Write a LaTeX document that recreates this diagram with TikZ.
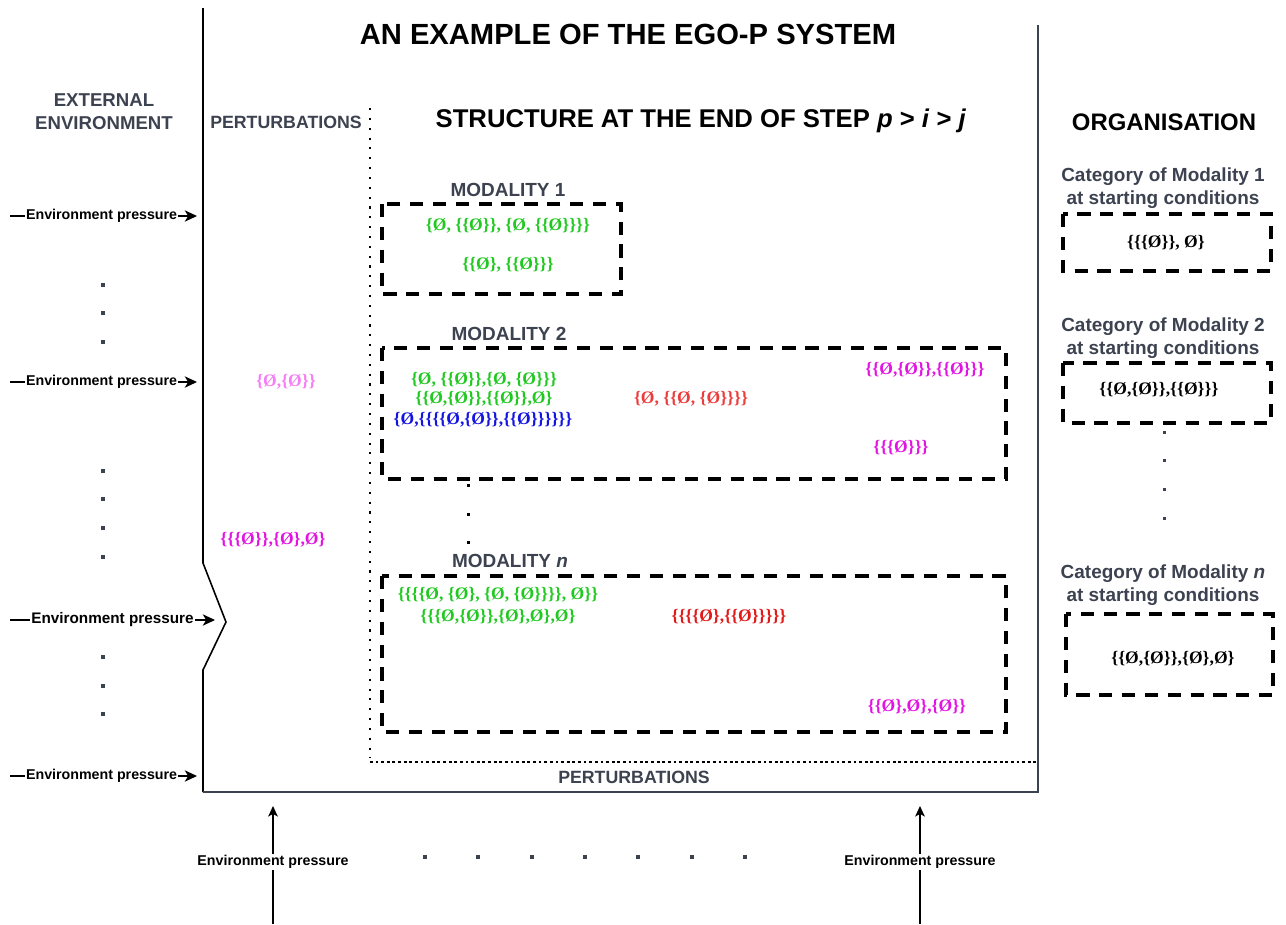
\documentclass[tikz,border=0pt]{standalone}
\usepackage{fontspec}
\setmainfont{Liberation Sans}
\newfontfamily\serf{Liberation Serif}
\usetikzlibrary{arrows.meta}
\definecolor{hd}{RGB}{60,66,80}
\definecolor{sgreen}{RGB}{34,200,34}
\definecolor{sblue}{RGB}{20,20,225}
\definecolor{sred}{RGB}{235,60,60}
\definecolor{sredd}{RGB}{225,25,25}
\definecolor{smag}{RGB}{225,20,225}
\definecolor{spink}{RGB}{245,125,245}
\tikzset{
  lbl/.style={inner sep=1pt},
  head/.style={lbl, font=\bfseries\fontsize{10.8}{13}\selectfont, text=hd, align=center},
  bighead/.style={lbl, font=\bfseries\fontsize{14.6}{17}\selectfont, text=black},
  envlab/.style={font=\bfseries\fontsize{8.1}{10}\selectfont, fill=white, inner sep=0.6pt},
  setlab/.style={lbl, font=\serf\bfseries\fontsize{10}{12}\selectfont},
  dbox/.style={draw=black, line width=2.2pt, dash pattern=on 7.5pt off 5.5pt},
  parr/.style={-{Stealth[length=7pt,width=6.5pt,inset=2pt]}, line width=0.7pt},
  uparr/.style={-{Stealth[length=6pt,width=5.5pt,inset=1.5pt]}, line width=0.7pt},
  dotsq/.style={fill=hd},
}
\begin{document}
\begin{tikzpicture}[x=0.02cm,y=-0.02cm]
\useasboundingbox (0,0) rectangle (1286,924);

% ---- frame ----
\draw[line width=0.9pt, black] (203,8) -- (203,563) -- (226,622) -- (203,670) -- (203,792);
\draw[line width=1.5pt, hd] (202.5,792) -- (1038,792) -- (1038,25);
\draw[line width=1.2pt, dash pattern=on 1.2pt off 4.4pt] (370,108) -- (370,758);
\draw[line width=0.7pt, dash pattern=on 1.6pt off 1.6pt] (370,762) -- (1036,762);

% ---- headings ----
\node[lbl, font=\bfseries\fontsize{16.6}{19}\selectfont] (title) at (628,34) {AN EXAMPLE OF THE EGO-P SYSTEM};
\node[head, font=\bfseries\fontsize{10.6}{13}\selectfont] (ext) at (104,112) {EXTERNAL\\ENVIRONMENT};
\node[head, font=\bfseries\fontsize{10.1}{12}\selectfont] (pert) at (286,122) {PERTURBATIONS};
\node[head, font=\bfseries\fontsize{10.1}{12}\selectfont] (pertb) at (634,777) {PERTURBATIONS};
\node[bighead] (struct) at (701,121) {STRUCTURE AT THE END OF STEP \textit{p} > \textit{i} > \textit{j}};
\node[bighead, font=\bfseries\fontsize{13.6}{16}\selectfont] (org) at (1164,122) {ORGANISATION};

% ---- left environment pressures ----
\coordinate (e1s) at (10,216); \coordinate (e1e) at (197,216);
\coordinate (e2s) at (10,382); \coordinate (e2e) at (197,382);
\coordinate (e3s) at (10,620); \coordinate (e3e) at (215,620);
\coordinate (e4s) at (10,776); \coordinate (e4e) at (197,776);
\draw[parr] (e1s) -- (e1e) node[envlab, pos=0.49] (ep1) {Environment pressure};
\draw[parr] (e2s) -- (e2e) node[envlab, pos=0.49] (ep2) {Environment pressure};
\draw[parr] (e3s) -- (e3e) node[envlab, pos=0.5, font=\bfseries\fontsize{8.7}{10}\selectfont] (ep3) {Environment pressure};
\draw[parr] (e4s) -- (e4e) node[envlab, pos=0.49] (ep4) {Environment pressure};

\foreach \yy in {285,313,342,471,499,528,557,657,686,714}
  \fill[dotsq] (103-1.6,\yy-1.6) rectangle (103+1.6,\yy+1.6);

% ---- bottom environment pressures ----
\coordinate (b1s) at (273,924); \coordinate (b1e) at (273,806);
\coordinate (b2s) at (920,924); \coordinate (b2e) at (920,806);
\draw[uparr] (b1s) -- (b1e) node[envlab, pos=0.525] (bp1) {Environment pressure};
\draw[uparr] (b2s) -- (b2e) node[envlab, pos=0.525] (bp2) {Environment pressure};
\foreach \xx in {425,478,532,585,638,692,745}
  \fill[dotsq] (\xx-1.6,857-1.6) rectangle (\xx+1.6,857+1.6);

% ---- perturbation column ----
\node[setlab, text=spink] (p1) at (286,382) {\{Ø,\{Ø\}\}};
\node[setlab, text=smag] (p2) at (273,540) {\{\{\{Ø\}\},\{Ø\},Ø\}};

% ---- modality 1 ----
\node[head] (m1) at (508,190) {MODALITY 1};
\draw[dbox] (382,204) rectangle (621,294);
\node[setlab, text=sgreen] (m1a) at (508,226) {\{Ø, \{\{Ø\}\}, \{Ø, \{\{Ø\}\}\}\}};
\node[setlab, text=sgreen] (m1b) at (508,265) {\{\{Ø\}, \{\{Ø\}\}\}};

% ---- modality 2 ----
\node[head] (m2) at (509,334) {MODALITY 2};
\draw[dbox] (382,348) rectangle (1006,479);
\node[setlab, text=sgreen] (m2a) at (484,380) {\{Ø, \{\{Ø\}\},\{Ø, \{Ø\}\}\}};
\node[setlab, text=sgreen] (m2b) at (484,399) {\{\{Ø,\{Ø\}\},\{\{Ø\}\},Ø\}};
\node[setlab, text=sblue] (m2c) at (483,420) {\{Ø,\{\{\{\{Ø,\{Ø\}\},\{\{Ø\}\}\}\}\}\}};
\node[setlab, text=sred] (m2d) at (691,399) {\{Ø, \{\{Ø, \{Ø\}\}\}\}};
\node[setlab, text=smag] (m2e) at (925,370) {\{\{Ø,\{Ø\}\},\{\{Ø\}\}\}};
\node[setlab, text=smag] (m2f) at (901,448) {\{\{\{Ø\}\}\}};
\foreach \yy in {485,514,542}
  \fill[black] (468-1.5,\yy-1.5) rectangle (468+1.5,\yy+1.5);

% ---- modality n ----
\node[head] (mn) at (510,561) {MODALITY \textit{n}};
\draw[dbox] (382,576) rectangle (1006,732);
\node[setlab, text=sgreen] (mna) at (498,595) {\{\{\{\{Ø, \{Ø\}, \{Ø, \{Ø\}\}\}\}, Ø\}\}};
\node[setlab, text=sgreen] (mnb) at (498,617) {\{\{\{Ø,\{Ø\}\},\{Ø\},Ø\},Ø\}};
\node[setlab, text=sredd] (mnc) at (729,617) {\{\{\{\{Ø\},\{\{Ø\}\}\}\}\}};
\node[setlab, text=smag] (mnd) at (917,707) {\{\{Ø\},Ø\},\{Ø\}\}};

% ---- organisation ----
\node[head] (c1) at (1163,188) {Category of Modality 1\\at starting conditions};
\draw[dbox] (1063,214) rectangle (1271,271);
\node[setlab, text=black] (o1) at (1166,243) {\{\{\{Ø\}\}, Ø\}};

\node[head] (c2) at (1163,338) {Category of Modality 2\\at starting conditions};
\draw[dbox] (1063,363) rectangle (1271,423);
\node[setlab, text=black] (o2) at (1159,390) {\{\{Ø,\{Ø\}\},\{\{Ø\}\}\}};
\foreach \yy in {432,460,489,518}
  \fill[dotsq] (1164-1.5,\yy-1.5) rectangle (1164+1.5,\yy+1.5);

\node[head] (cn) at (1163,585) {Category of Modality \textit{n}\\at starting conditions};
\draw[dbox] (1066,614) rectangle (1273,695);
\node[setlab, text=black] (on) at (1173,659) {\{\{Ø,\{Ø\}\},\{Ø\},Ø\}};
\end{tikzpicture}
\end{document}
